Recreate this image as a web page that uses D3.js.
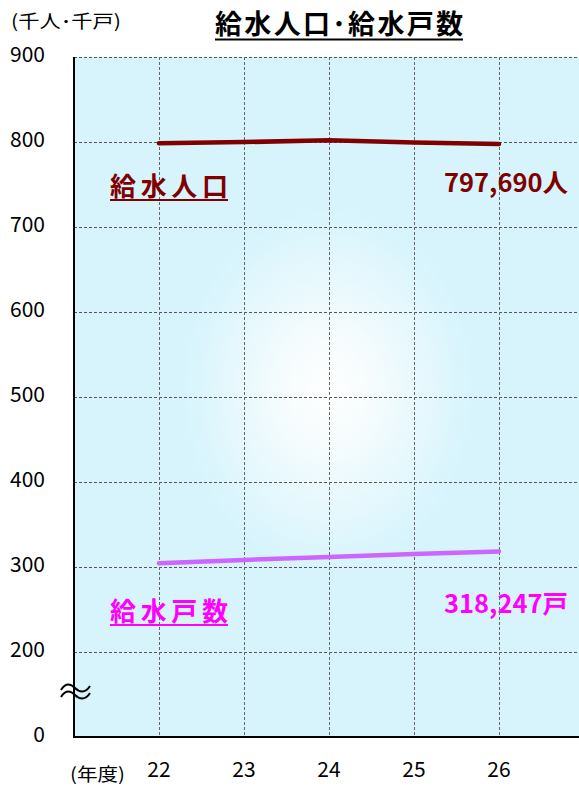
<!DOCTYPE html>
<html>
<head>
<meta charset="utf-8">
<script src="https://cdn.jsdelivr.net/npm/d3@7"></script>
<style>
  html, body { margin: 0; padding: 0; background: #fff; }
  svg { display: block; }
  text { font-family: "Noto Sans CJK JP", "Noto Sans", sans-serif; }
</style>
</head>
<body>
<svg id="chart" width="579" height="787"></svg>
<script>
// Fiscal years (Heisei)
const years = [22, 23, 24, 25, 26];
// Population served, thousands of people
const population = [798.5, 799.9, 802.0, 799.5, 797.69];
// Households served, thousands
const households = [304.5, 308.3, 311.8, 315.3, 318.247];
// Y tick labels (the 0–200 band is a compressed axis break)
const yTicks = [0, 200, 300, 400, 500, 600, 700, 800, 900];

const svg = d3.select("#chart");
const plotL = 74, plotR = 584, plotT = 57, plotB = 737;

const x = d3.scaleLinear().domain([21, 27]).range([plotL, plotR]);
// piecewise: 0→200 occupies one band, same height as each 100 step above
const y = d3.scaleLinear().domain([0, 200, 900]).range([plotB, 652, plotT]);

// background with a soft central glow
const defs = svg.append("defs");
const grad = defs.append("radialGradient").attr("id", "glow")
  .attr("gradientUnits", "userSpaceOnUse")
  .attr("cx", 328).attr("cy", 390).attr("r", 180)
  .attr("gradientTransform", "translate(328,390) scale(0.8,1.0) translate(-328,-390)");
grad.append("stop").attr("offset", "0%").attr("stop-color", "#ffffff");
grad.append("stop").attr("offset", "30%").attr("stop-color", "#f6fcfd");
grad.append("stop").attr("offset", "100%").attr("stop-color", "#d7f4fd");

svg.append("rect").attr("x", plotL).attr("y", plotT)
  .attr("width", plotR - plotL).attr("height", plotB - plotT)
  .attr("fill", "#d7f4fd");
svg.append("rect").attr("x", plotL).attr("y", plotT)
  .attr("width", plotR - plotL).attr("height", plotB - plotT)
  .attr("fill", "url(#glow)");

// horizontal grid
svg.append("g").selectAll("line").data(yTicks.filter(d => d > 0)).join("line")
  .attr("x1", plotL).attr("x2", plotR)
  .attr("y1", d => Math.round(y(d)) + 0.5).attr("y2", d => Math.round(y(d)) + 0.5)
  .attr("stroke", "#555").attr("stroke-width", 1).attr("stroke-dasharray", "3,2");

// vertical grid
svg.append("g").selectAll("line").data(years).join("line")
  .attr("x1", d => Math.round(x(d)) + 0.5).attr("x2", d => Math.round(x(d)) + 0.5)
  .attr("y1", plotT).attr("y2", plotB)
  .attr("stroke", "#666").attr("stroke-width", 1).attr("stroke-dasharray", "3,2");

// axes lines
svg.append("line").attr("x1", plotL).attr("x2", plotL).attr("y1", plotT).attr("y2", plotB + 1)
  .attr("stroke", "#000").attr("stroke-width", 2);
svg.append("line").attr("x1", plotL - 1).attr("x2", plotR).attr("y1", plotB).attr("y2", plotB)
  .attr("stroke", "#000").attr("stroke-width", 2);

// y tick labels
svg.append("g").selectAll("text").data(yTicks).join("text")
  .attr("x", 45).attr("y", d => y(d)).attr("dy", "-0.05em")
  .attr("text-anchor", "end").attr("dominant-baseline", "middle")
  .attr("font-size", 21).attr("fill", "#000")
  .text(d => d);

// axis break mark: two stacked tildes over the y axis
const wave = (dy) => `M61,${690 + dy} C66,${682 + dy} 71,${684 + dy} 75,${688 + dy} C79,${692 + dy} 85,${694 + dy} 90,${686 + dy}`;
svg.append("g").selectAll("path").data([0, 7]).join("path")
  .attr("d", d => wave(d)).attr("fill", "none")
  .attr("stroke", "#000").attr("stroke-width", 2);

// x tick labels
svg.append("g").selectAll("text").data(years).join("text")
  .attr("x", d => x(d)).attr("y", 777)
  .attr("text-anchor", "middle").attr("font-size", 21).attr("fill", "#000")
  .text(d => d);

svg.append("text").attr("x", 70).attr("y", 781)
  .attr("font-size", 18).attr("fill", "#000")
  .attr("textLength", 55).attr("lengthAdjust", "spacingAndGlyphs").text("(年度)");

svg.append("text").attr("x", 11).attr("y", 28)
  .attr("font-size", 18).attr("fill", "#000")
  .attr("textLength", 110).attr("lengthAdjust", "spacingAndGlyphs").text("(千人･千戸)");

// title
svg.append("text").attr("x", 215).attr("y", 34)
  .attr("font-size", 27).attr("font-weight", "bold").attr("fill", "#000")
  .attr("textLength", 248).attr("lengthAdjust", "spacing")
  .text("給水人口･給水戸数");
svg.append("line").attr("x1", 215).attr("x2", 463).attr("y1", 39.5).attr("y2", 39.5)
  .attr("stroke", "#000").attr("stroke-width", 2);

// series lines
const line = (vals) => d3.line().x((d, i) => x(years[i])).y(d => y(d))(vals);
svg.append("path").attr("d", line(population))
  .attr("fill", "none").attr("stroke", "#800000").attr("stroke-width", 4.5)
  .attr("stroke-linecap", "round").attr("stroke-linejoin", "round");
svg.append("path").attr("d", line(households))
  .attr("fill", "none").attr("stroke", "#cc66ff").attr("stroke-width", 4.5)
  .attr("stroke-linecap", "round").attr("stroke-linejoin", "round");

// series labels
const fmt = d3.format(",");
function seriesLabel(name, color, yName, yValue, valueText) {
  svg.append("text").attr("x", 110).attr("y", yName)
    .attr("font-size", 26).attr("font-weight", "bold").attr("fill", color)
    .attr("textLength", 118).attr("lengthAdjust", "spacing").text(name);
  svg.append("line").attr("x1", 110).attr("x2", 228)
    .attr("y1", yName + 4).attr("y2", yName + 4)
    .attr("stroke", color).attr("stroke-width", 2);
  svg.append("text").attr("x", 444).attr("y", yValue)
    .attr("font-size", 25).attr("font-weight", "bold").attr("fill", color)
    .attr("textLength", 124).attr("lengthAdjust", "spacingAndGlyphs").text(valueText);
}
seriesLabel("給水人口", "#800000", 196, 192, fmt(Math.round(population[4] * 1000)) + "人");
seriesLabel("給水戸数", "#ff00ff", 621, 613, fmt(Math.round(households[4] * 1000)) + "戸");
</script>
</body>
</html>
